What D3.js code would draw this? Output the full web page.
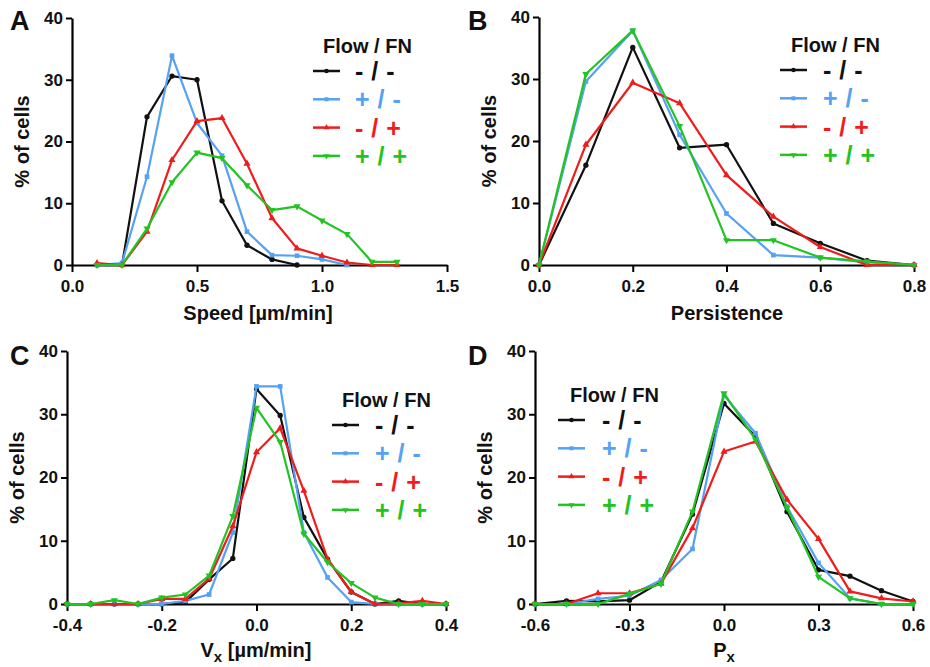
<!DOCTYPE html>
<html>
<head>
<meta charset="utf-8">
<script src="https://cdn.jsdelivr.net/npm/d3@7"></script>
<style>
  body { margin: 0; background: #fff; }
  text { font-family: "Liberation Sans", Arial, sans-serif; font-weight: bold; }
</style>
</head>
<body>
<div id="chart"></div>
<script>
// series colours / legend labels
const seriesNames = ["- / -", "+ / -", "- / +", "+ / +"];
const seriesColors = ["#111111", "#55a2f2", "#f01c1c", "#22c322"];
const seriesSymbols = [d3.symbolCircle, d3.symbolSquare, d3.symbolTriangle, "down"];

// A: speed
const speedBins = [0.1, 0.2, 0.3, 0.4, 0.5, 0.6, 0.7, 0.8, 0.9, 1.0, 1.1, 1.2, 1.3];
const speedNN = [0, 0, 24.0, 30.6, 30.0, 10.4, 3.2, 0.9, 0, null, null, null, null];
const speedPN = [0, 0.3, 14.3, 33.9, 23.0, 17.7, 5.4, 1.6, 1.5, 0.9, 0, null, null];
const speedNP = [0.3, 0, 5.4, 17.0, 23.3, 23.8, 16.4, 7.6, 2.7, 1.5, 0.4, 0, 0];
const speedPP = [0, 0, 5.9, 13.4, 18.2, 17.3, 12.9, 8.9, 9.5, 7.2, 5.0, 0.5, 0.5];

// B: persistence
const persBins = [0, 0.1, 0.2, 0.3, 0.4, 0.5, 0.6, 0.7, 0.8];
const persNN = [0, 16.1, 35.1, 18.9, 19.4, 6.7, 3.5, 0.7, 0];
const persPN = [0, 29.6, 37.8, 21.0, 8.3, 1.6, 1.2, 0.4, 0];
const persNP = [0, 19.4, 29.4, 26.1, 14.5, 7.8, 2.9, 0, 0];
const persPP = [0, 30.8, 37.8, 22.4, 4.0, 4.0, 1.2, 0.6, 0];

// C: Vx
const vxBins = [-0.4, -0.35, -0.3, -0.25, -0.2, -0.15, -0.1, -0.05, 0, 0.05, 0.1, 0.15, 0.2, 0.25, 0.3, 0.35, 0.4];
const vxNN = [0, 0, 0, 0, 0, 0.3, 3.9, 7.2, 34.0, 29.8, 13.7, 7.1, 1.9, 0, 0.5, 0, 0];
const vxPN = [0, 0, 0, 0, 0, 0.5, 1.5, 11.3, 34.4, 34.4, 11.3, 4.2, 0.3, 0, 0, 0, 0];
const vxNP = [0, 0, 0, 0, 0.8, 0.8, 4.0, 12.3, 24.0, 27.8, 17.9, 7.1, 1.9, 0, 0.1, 0.5, 0];
const vxPP = [0, 0, 0.6, 0, 1.0, 1.5, 4.5, 13.9, 31.0, 25.6, 11.1, 6.6, 3.3, 1.0, 0, 0, 0];

// D: Px
const pxBins = [-0.6, -0.5, -0.4, -0.3, -0.2, -0.1, 0, 0.1, 0.2, 0.3, 0.4, 0.5, 0.6];
const pxNN = [0, 0.5, 0.4, 0.6, 3.5, 14.2, 31.7, 26.5, 14.6, 5.4, 4.4, 2.1, 0.4];
const pxPN = [0, 0, 0.8, 1.3, 3.8, 8.7, 33.0, 27.0, 15.4, 6.5, 0.9, 0, 0];
const pxNP = [0, 0, 1.7, 1.7, 3.2, 12.0, 24.1, 25.7, 16.5, 10.3, 2.0, 0.9, 0.4];
const pxPP = [0, 0, 0, 1.6, 3.2, 14.6, 33.3, 26.0, 15.2, 4.3, 0.9, 0, 0];

const yTicks = [0, 10, 20, 30, 40];

const svg = d3.select("#chart").append("svg")
  .attr("width", 930)
  .attr("height", 667)
  .style("background", "#fff");

const panels = [
  { letter: "A", lx: 10, ly: 30, x0: 72, x1: 447, y0: 265, y1: 18,
    domain: [0, 1.5], ticks: [0, 0.5, 1.0, 1.5], bins: speedBins,
    series: [speedNN, speedPN, speedNP, speedPP],
    xLabel: ["Speed [µm/min]"], xlx: 258, xly: 320,
    legX: 313, legY: 53, legTitleX: 323, legTextX: 355 },
  { letter: "B", lx: 468, ly: 30, x0: 539, x1: 914, y0: 265, y1: 17,
    domain: [0, 0.8], ticks: [0, 0.2, 0.4, 0.6, 0.8], bins: persBins,
    series: [persNN, persPN, persNP, persPP],
    xLabel: ["Persistence"], xlx: 727, xly: 320,
    legX: 780, legY: 52, legTitleX: 791, legTextX: 823 },
  { letter: "C", lx: 10, ly: 365, x0: 67, x1: 446, y0: 604, y1: 351,
    domain: [-0.4, 0.4], ticks: [-0.4, -0.2, 0, 0.2, 0.4], bins: vxBins,
    series: [vxNN, vxPN, vxNP, vxPP],
    xLabel: ["V", "x", " [µm/min]"], xlx: 256, xly: 657,
    legX: 332, legY: 407, legTitleX: 342, legTextX: 375 },
  { letter: "D", lx: 468, ly: 365, x0: 535, x1: 913, y0: 604, y1: 351,
    domain: [-0.6, 0.6], ticks: [-0.6, -0.3, 0, 0.3, 0.6], bins: pxBins,
    series: [pxNN, pxPN, pxNP, pxPP],
    xLabel: ["P", "x"], xlx: 724, xly: 657,
    legX: 558, legY: 402, legTitleX: 570, legTextX: 602 }
];

function symbolPath(i, size) {
  const s = seriesSymbols[i];
  if (s === "down") return d3.symbol(d3.symbolTriangle, size)();
  return d3.symbol(s, size)();
}

panels.forEach(p => {
  const g = svg.append("g");
  const x = d3.scaleLinear().domain(p.domain).range([p.x0, p.x1]);
  const y = d3.scaleLinear().domain([0, 40]).range([p.y0, p.y1]);

  // axes
  const yAxis = g.append("g")
    .attr("transform", `translate(${p.x0},0)`)
    .call(d3.axisLeft(y).tickValues(yTicks).tickSize(6).tickSizeOuter(0).tickPadding(3).tickFormat(d => d));
  const xAxis = g.append("g")
    .attr("transform", `translate(0,${p.y0})`)
    .call(d3.axisBottom(x).tickValues(p.ticks).tickSize(7).tickSizeOuter(0).tickPadding(8).tickFormat(d => d.toFixed(1)));
  [xAxis, yAxis].forEach(a => {
    a.select(".domain").attr("stroke", "#000").attr("stroke-width", 2.2);
    a.selectAll(".tick line").attr("stroke", "#000").attr("stroke-width", 2);
    a.selectAll(".tick text").attr("fill", "#111").style("font-size", "17px").style("font-weight", "bold")
      .style("font-family", '"Liberation Sans", Arial, sans-serif');
  });

  // series lines + markers
  p.series.forEach((vals, i) => {
    const pts = p.bins.map((b, k) => [b, vals[k]]).filter(d => d[1] !== null);
    g.append("path")
      .datum(pts)
      .attr("fill", "none")
      .attr("stroke", seriesColors[i])
      .attr("stroke-width", 2.2)
      .attr("stroke-linejoin", "round")
      .attr("d", d3.line().x(d => x(d[0])).y(d => y(d[1])));
    g.selectAll(null).data(pts).enter().append("path")
      .attr("d", symbolPath(i, 22))
      .attr("fill", seriesColors[i])
      .attr("transform", d => `translate(${x(d[0])},${y(d[1])})` + (seriesSymbols[i] === "down" ? " rotate(180)" : ""));
  });

  // panel letter
  g.append("text").attr("x", p.lx).attr("y", p.ly)
    .style("font-size", "27px").attr("fill", "#111").text(p.letter);

  // y title
  g.append("text")
    .attr("transform", `translate(${p.x0 - 43},${(p.y0 + p.y1) / 2}) rotate(-90)`)
    .attr("text-anchor", "middle")
    .style("font-size", "20px").attr("fill", "#111")
    .text("% of cells");

  // x title
  const xt = g.append("text").attr("x", p.xlx).attr("y", p.xly)
    .attr("text-anchor", "middle").style("font-size", "20px").attr("fill", "#111");
  xt.append("tspan").text(p.xLabel[0]);
  if (p.xLabel.length > 1) {
    xt.append("tspan").attr("dy", 5).style("font-size", "15px").text(p.xLabel[1]);
    if (p.xLabel[2]) xt.append("tspan").attr("dy", -5).text(p.xLabel[2]);
  }

  // legend
  const leg = g.append("g");
  leg.append("text").attr("x", p.legTitleX).attr("y", p.legY)
    .style("font-size", "20px").attr("fill", "#111").text("Flow / FN");
  seriesNames.forEach((name, i) => {
    const ly = p.legY + 18 + i * 28.3;
    leg.append("line")
      .attr("x1", p.legX).attr("x2", p.legX + 27)
      .attr("y1", ly).attr("y2", ly)
      .attr("stroke", seriesColors[i]).attr("stroke-width", 2.5);
    leg.append("path")
      .attr("d", symbolPath(i, 16))
      .attr("fill", seriesColors[i])
      .attr("transform", `translate(${p.legX + 13.5},${ly})` + (seriesSymbols[i] === "down" ? " rotate(180)" : ""));
    leg.append("text")
      .attr("x", p.legTextX).attr("y", ly + 9)
      .style("font-size", "25px").style("letter-spacing", "0.5px")
      .attr("xml:space", "preserve")
      .attr("fill", seriesColors[i]).text(name);
  });
});
</script>
</body>
</html>
